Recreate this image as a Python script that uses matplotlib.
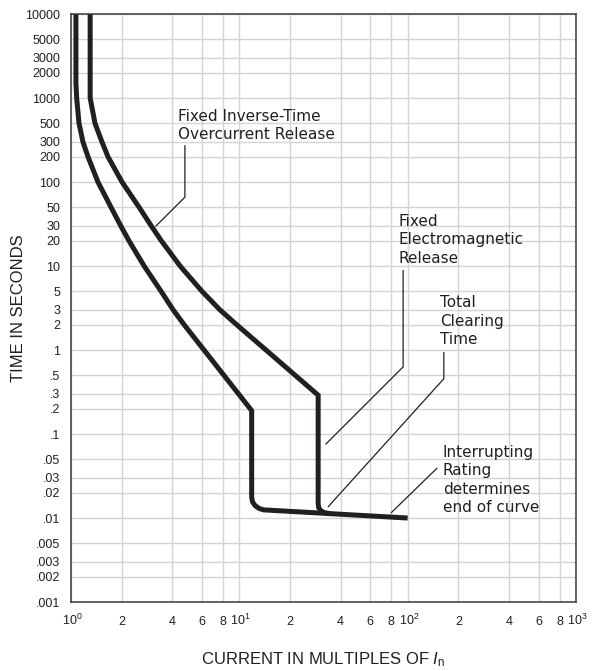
import numpy as np
import matplotlib
matplotlib.use("Agg")
import matplotlib.pyplot as plt
from matplotlib.ticker import NullLocator

plt.rcParams['font.family'] = ['Liberation Sans', 'DejaVu Sans']
plt.rcParams['mathtext.fontset'] = 'custom'
plt.rcParams['mathtext.rm'] = 'Liberation Sans'
plt.rcParams['mathtext.it'] = 'Liberation Sans:italic'

INK = '#231f20'

# curves (multiples of In, seconds)
left_x = [1.07, 1.07, 1.081, 1.116, 1.178, 1.262, 1.446, 1.73, 1.977, 2.21, 2.72, 3.43,
          4.05, 4.7, 6.17, 11.84, 11.84, 11.99, 12.43, 13.11, 13.96, 100]
left_t = [10000, 1500, 1000, 500, 300, 200, 100, 50, 30, 20, 10, 5,
          3, 2, 1, 0.19, 0.0176, 0.0155, 0.0140, 0.0130, 0.0125, 0.0100]

right_x = [1.30, 1.30, 1.389, 1.528, 1.659, 2.01, 2.54, 3.0, 3.44, 4.45, 6.0, 7.68,
           9.65, 14.4, 29.4, 29.4, 29.6, 30.5, 32.0, 35.0]
right_t = [10000, 1000, 500, 300, 200, 100, 50, 30, 20, 10, 5, 3,
           2, 1, 0.29, 0.0149, 0.0133, 0.0122, 0.0116, 0.0112]

# axis ticks
x_ticks = [1, 2, 4, 6, 8, 10, 20, 40, 60, 80, 100, 200, 400, 600, 800, 1000]
x_labels = [r'$\ 10^{0}$', '2', '4', '6', '8', r'$\ 10^{1}$',
            '2', '4', '6', '8', r'$\ 10^{2}$',
            '2', '4', '6', '8', r'$\ 10^{3}$']
y_ticks = [10000, 5000, 3000, 2000, 1000, 500, 300, 200, 100, 50, 30, 20, 10, 5, 3, 2, 1,
           0.5, 0.3, 0.2, 0.1, 0.05, 0.03, 0.02, 0.01, 0.005, 0.003, 0.002, 0.001]
y_labels = ['10000', '5000', '3000', '2000', '1000', '500', '300', '200', '100', '50',
            '30', '20', '10', '5', '3', '2', '1', '.5', '.3', '.2', '.1', '.05', '.03',
            '.02', '.01', '.005', '.003', '.002', '.001']

# callouts: text, text anchor (top-left), leader polyline
note_text = ["Fixed Inverse-Time\nOvercurrent Release",
             "Fixed\nElectromagnetic\nRelease",
             "Total\nClearing\nTime",
             "Interrupting\nRating\ndetermines\nend of curve"]
note_pos = [(4.30, 750), (88.0, 42), (156, 4.5), (162, 0.075)]
note_lead_x = [[4.75, 4.75, 3.2], [94, 94, 32.7], [164, 164, 33.8], [149, 80]]
note_lead_t = [[270, 66, 30], [8.8, 0.63, 0.076], [0.93, 0.455, 0.0137], [0.039, 0.0116]]

fig = plt.figure(figsize=(5.94, 6.71), dpi=100)
ax = fig.add_axes([0.1195, 0.1028, 0.8502, 0.8763])
ax.set_xscale('log')
ax.set_yscale('log')
ax.set_xlim(1, 1000)
ax.set_ylim(0.001, 10000)

ax.plot(left_x, left_t, color=INK, lw=3.6, solid_joinstyle='miter', solid_capstyle='butt')
ax.plot(right_x, right_t, color=INK, lw=3.6, solid_joinstyle='miter', solid_capstyle='butt')

for txt, (tx, ty), lx, lt in zip(note_text, note_pos, note_lead_x, note_lead_t):
    ax.plot(lx, lt, color=INK, lw=0.9)
    ax.text(tx, ty, txt, ha='left', va='top', fontsize=11, color=INK,
            linespacing=1.3, family=['DejaVu Sans'])

ax.set_xticks(x_ticks)
ax.set_xticklabels(x_labels)
ax.set_yticks(y_ticks)
ax.set_yticklabels(y_labels)
ax.xaxis.set_minor_locator(NullLocator())
ax.yaxis.set_minor_locator(NullLocator())
ax.tick_params(axis='both', length=0, labelsize=9, colors=INK)
ax.tick_params(axis='x', pad=16.8)
ax.tick_params(axis='y', pad=7.9)
for lab in ax.get_xticklabels():
    lab.set_verticalalignment('baseline')

ax.grid(True, which='major', color='#d4d4d4', lw=1.0)
ax.set_axisbelow(True)
for s in ax.spines.values():
    s.set_color('#3a3a3a')
    s.set_linewidth(1.1)

ax.set_xlabel(r'CURRENT IN MULTIPLES OF $\mathit{I}_{\mathrm{n}}$', fontsize=12, color=INK)
ax.xaxis.set_label_coords(0.5, -0.082)
ax.set_ylabel('TIME IN SECONDS', fontsize=12, color=INK, va='center')
ax.yaxis.set_label_coords(-0.103, 0.5)

fig.savefig('out.png', dpi=100)
